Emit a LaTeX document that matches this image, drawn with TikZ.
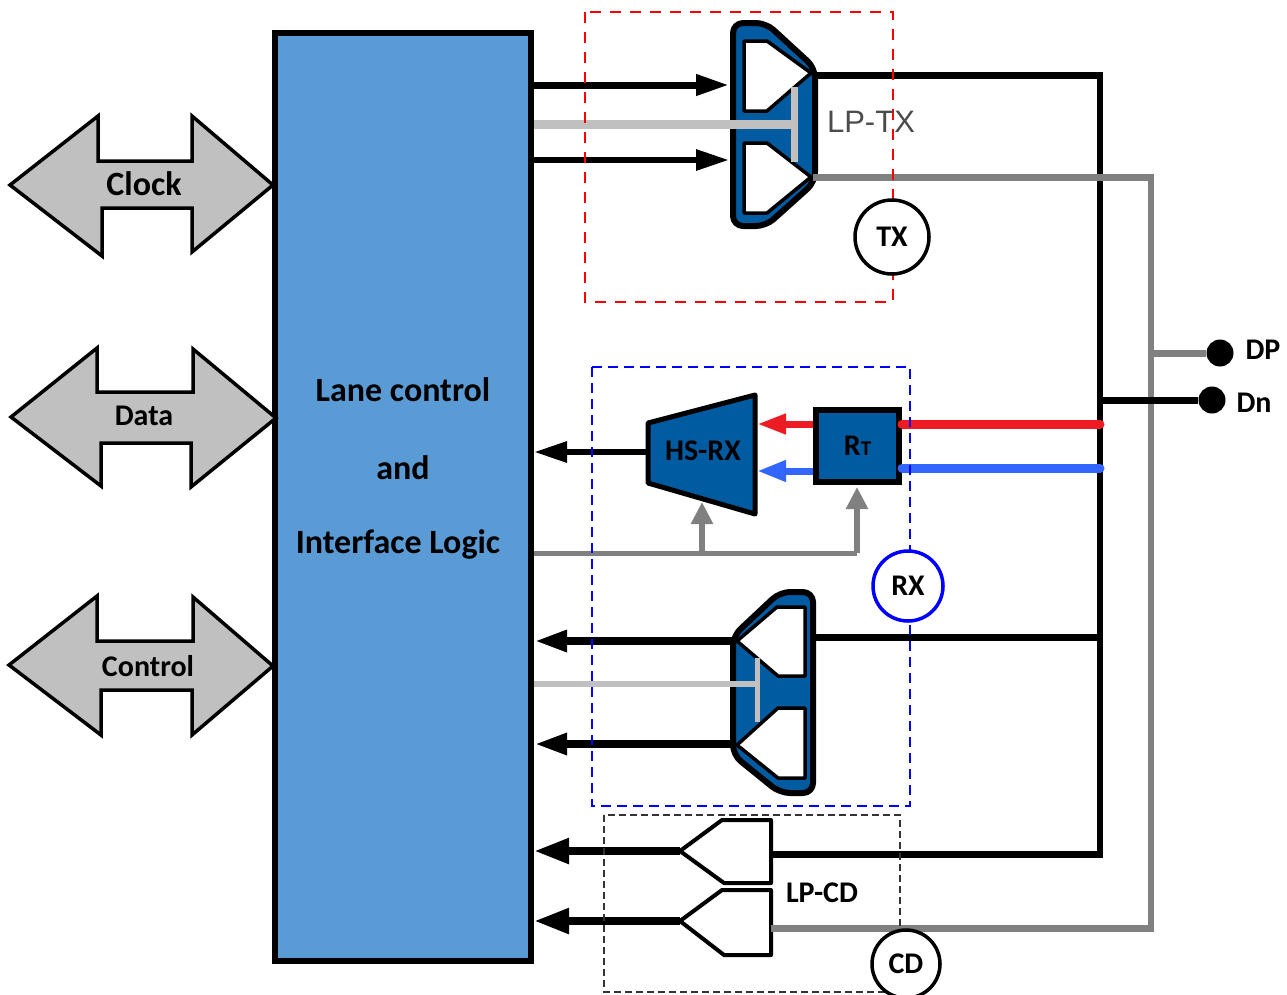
\documentclass[tikz,border=0pt]{standalone}
\usepackage{fontspec}
\setmainfont{Carlito}
\newfontfamily\lpfont{Liberation Sans}
\usetikzlibrary{arrows.meta}
\definecolor{mainblue}{HTML}{5B9BD5}
\definecolor{ampblue}{HTML}{005BA1}
\definecolor{lgray}{HTML}{C0C0C0}
\definecolor{mgray}{HTML}{808080}
\definecolor{sigred}{HTML}{ED1C24}
\definecolor{sigblue}{HTML}{3366FF}
\tikzset{
  bigarrow/.style={draw=black,line width=3.5pt,fill=lgray,line join=miter},
  biglabel/.style={font=\bfseries\fontsize{34}{34}\selectfont,inner sep=0pt},
  midlabel/.style={font=\bfseries\fontsize{30}{30}\selectfont,inner sep=0pt},
  amp/.style={draw=black,line width=6pt,fill=ampblue,line join=round,rounded corners=10pt},
  hole/.style={draw=black,line width=3.5pt,fill=white,line join=round},
  cmp/.style={draw=black,line width=4pt,fill=white,line join=round},
  wire/.style={line width=7pt,draw=black},
  graywire/.style={line width=7pt,draw=mgray},
  arr/.style={line width=7pt,draw=black,-{Triangle[length=33pt,width=20pt]}},
  garr/.style={line width=6pt,draw=mgray,-{Triangle[length=22pt,width=21pt]}},
  tag/.style={circle,draw=black,line width=3.5pt,fill=white,inner sep=0pt,font=\bfseries\fontsize{30}{30}\selectfont},
  term/.style={circle,fill=black,minimum size=27pt,inner sep=0pt},
  termlabel/.style={font=\bfseries\fontsize{30}{30}\selectfont,inner sep=0pt}
}
\begin{document}
\begin{tikzpicture}[x=1pt,y=-1pt]
\useasboundingbox (0,0) rectangle (1287,994);
\clip (0,0) rectangle (1287,994);
\fill[white] (0,0) rectangle (1287,994);

% main block
\node[draw=black,line width=6pt,fill=mainblue,minimum width=256pt,minimum height=928pt,inner sep=0pt] (main) at (403,497) {};
\node[biglabel] (lane) at (403,390) {Lane control};
\node[biglabel] (andw) at (403,468) {and};
\node[biglabel] (ifl) at (398,544) {Interface Logic};

% bidirectional arrows
\draw[bigarrow] (10,185)--(98,116)--(98,161)--(192,161)--(192,116)--(273,185)--(192,252)--(192,208)--(102,208)--(102,256)--cycle;
\node[biglabel] (clock) at (144,184) {Clock};
\draw[bigarrow] (11,417)--(97,348)--(97,392)--(193,392)--(193,349)--(276,418)--(191,487)--(191,443)--(101,443)--(101,486)--cycle;
\node[midlabel] (data) at (144,416) {Data};
\draw[bigarrow] (9,665)--(97,596)--(97,641)--(193,641)--(193,597)--(273,666)--(192,735)--(192,690)--(101,690)--(101,735)--cycle;
\node[midlabel] (control) at (148,666) {Control};

% anchors for connectors
\coordinate (txa) at (729,85);
\coordinate (txb) at (729,160);
\coordinate (txc) at (795,124);
\coordinate (txt) at (794,87);
\coordinate (txu) at (794,162);
\coordinate (txo) at (813,75);
\coordinate (txg) at (813,177);
\coordinate (busT) at (1100,71.5);
\coordinate (busB) at (1100,857.5);
\coordinate (gbusT) at (1151,173.5);
\coordinate (gbusB) at (1151,931.5);
\coordinate (gdp) at (1151,353);
\coordinate (bdn) at (1100,400);
\coordinate (hsl) at (648,452);
\coordinate (hsb) at (702,502);
\coordinate (rtb) at (857,487);
\coordinate (ctl) at (702,553);
\coordinate (ctr) at (857,553);
\coordinate (lpa) at (733,641);
\coordinate (lpb) at (733,744);
\coordinate (lpo) at (815,637);
\coordinate (lpg) at (757,684);
\coordinate (lpt) at (757,658);
\coordinate (lpu) at (757,722);
\coordinate (cda) at (680,851);
\coordinate (cdb) at (680,921);
\coordinate (cdo) at (771,854);
\coordinate (cdg) at (771,928);
\coordinate (busR) at (1100,424);
\coordinate (busL) at (1100,468);
\coordinate (rtr) at (902,424);
\coordinate (rtl) at (902,468);

% rails
\draw[wire,line width=6.5pt] (busT) -- (busB);
\draw[graywire,line width=6.5pt] (gbusT) -- (gbusB);

% LP-TX
\draw[arr] (main.east |- txa) -- (txa);
\draw[arr,line width=6pt] (main.east |- txb) -- (txb);
\draw[amp] (733,23)--(766,23)--(815,68)--(815,182)--(766,226)--(733,226)--cycle;
\draw[hole] (744,41)--(767,41)--(811,73)--(767,111)--(744,111)--cycle;
\draw[hole] (744,143)--(767,143)--(811,177)--(767,213)--(744,213)--cycle;
\draw[line width=9pt,lgray] (main.east |- txc) -- (txc);
\draw[line width=7pt,lgray] (txt) -- (txu);
\draw[wire] (txo -| busT) -- (txo);
\draw[graywire] (txg) -- (txg -| gbusT);

% RT and HS-RX
\node[draw=black,line width=6.5pt,fill=ampblue,minimum width=83pt,minimum height=72pt,inner sep=0pt,font=\bfseries\fontsize{30}{30}\selectfont] (rt) at (857.5,446) {R\kern0pt{\fontsize{21}{21}\selectfont T}};
\draw[draw=black,line width=5pt,fill=ampblue,line join=round] (648,423)--(755,395)--(755,514)--(648,483)--cycle;
\node[midlabel] (hsrx) at (703,451) {HS-RX};
\draw[arr,line width=6pt] (hsl) -- (main.east |- hsl);
\draw[line width=9pt,sigred,line cap=round] (rtr) -- (busR);
\draw[line width=9pt,sigblue,line cap=round] (rtl) -- (busL);
\draw[line width=7pt,sigred,-{Triangle[length=29pt,width=19pt]}] (rt.west |- 0,424) -- (757,424);
\draw[line width=7pt,sigblue,-{Triangle[length=29pt,width=20pt]}] (rt.west |- 0,471) -- (757,471);
\draw[line width=5pt,mgray] (main.east |- ctl) -- (ctr);
\draw[garr] (ctl) -- (hsb);
\draw[garr] (ctr) -- (rtb);

% LP-RX
\draw[arr,line width=8.5pt] (lpa) -- (main.east |- lpa);
\draw[arr,line width=8.5pt] (lpb) -- (main.east |- lpb);
\draw[amp] (733,636)--(780,592)--(813,592)--(813,793)--(780,793)--(733,755)--cycle;
\draw[hole] (737,641)--(777,607)--(805,607)--(805,676)--(778,676)--cycle;
\draw[hole] (737,745)--(778,708)--(805,708)--(805,778)--(778,778)--cycle;
\draw[line width=6pt,lgray] (main.east |- lpg) -- (lpg);
\draw[line width=5pt,lgray] (lpt) -- (lpu);
\draw[wire] (lpo) -- (busT |- lpo);

% LP-CD
\draw[arr,line width=8pt,-{Triangle[length=35pt,width=24pt]}] (cda) -- (main.east |- cda);
\draw[arr,line width=8pt,-{Triangle[length=35pt,width=24pt]}] (cdb) -- (main.east |- cdb);
\draw[cmp] (680,851)--(722,820)--(771,820)--(771,883)--(724,883)--cycle;
\draw[cmp] (680,921)--(722,890)--(771,890)--(771,955)--(724,955)--cycle;
\draw[wire] (cdo) -- (busB |- cdo);
\draw[graywire] (cdg) -- (gbusB |- cdg);
\node[midlabel] (lpcd) at (822,893) {LP-CD};

% terminals
\node[term] (dp) at (1220,353) {};
\node[term] (dn) at (1212,400) {};
\draw[graywire] (gdp) -- (dp);
\draw[wire] (bdn) -- (dn);
\node[termlabel] (dpl) at (1263,350) {DP};
\node[termlabel] (dnl) at (1254,403) {Dn};

% groups
\draw[red,line width=1.7pt,dash pattern=on 11pt off 9pt] (585,12) rectangle (893,302);
\draw[blue,line width=1.7pt,dash pattern=on 10pt off 6pt] (592,367) rectangle (910,806);
\draw[black!80,line width=1.2pt,dash pattern=on 7pt off 4pt] (604,815) rectangle (900,992);
\node[inner sep=0pt,text=black!70,font=\lpfont\fontsize{31}{31}\selectfont] (lptx) at (871,122) {LP-TX};

% tags
\node[tag,minimum size=74pt] (tx) at (892,237) {TX};
\node[tag,draw=blue,minimum size=70pt] (rx) at (908,586) {RX};
\node[tag,minimum size=68pt] (cd) at (906,964) {CD};
\end{tikzpicture}
\end{document}
